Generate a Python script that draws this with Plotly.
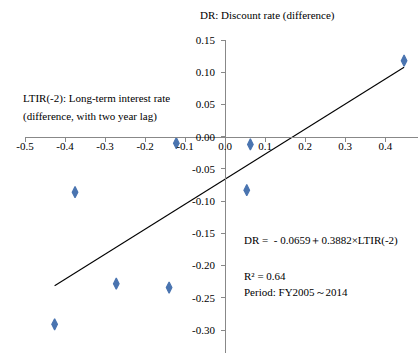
import plotly.graph_objects as go

# LTIR(-2): long-term interest rate change (two-year lag) vs DR: discount rate change
ltir = [0.447, -0.122, 0.063, -0.375, 0.054, -0.272, -0.140, -0.426]
dr = [0.118, -0.010, -0.012, -0.086, -0.083, -0.228, -0.234, -0.291]

intercept = -0.0659
slope = 0.3882

x_ticks = [-0.5, -0.4, -0.3, -0.2, -0.1, 0.0, 0.1, 0.2, 0.3, 0.4, 0.5]
y_ticks = [0.15, 0.10, 0.05, 0.00, -0.05, -0.10, -0.15, -0.20, -0.25, -0.30, -0.35]

W, H = 418, 353
ml, mt, mr, mb = 25.3, 40.3, 0, 0
px_x = 400.0   # pixels per unit on x
px_y = 644.0   # pixels per unit on y
x_rng = [-0.5, -0.5 + (W - ml - mr) / px_x]
y_rng = [0.15 - (H - mt - mb) / px_y, 0.15]

FONT = "Liberation Serif"
axis_col = "#888888"
marker_col = "#4a74b0"

fit_x = [min(ltir), max(ltir)]
fit_y = [intercept + slope * v for v in fit_x]

fig = go.Figure()
fig.add_trace(go.Scatter(x=fit_x, y=fit_y, mode="lines",
                         line=dict(color="black", width=1.1),
                         hoverinfo="skip", showlegend=False))
fig.add_trace(go.Scatter(x=ltir, y=dr, mode="markers",
                         marker=dict(symbol="diamond-tall", size=8,
                                     color=marker_col,
                                     line=dict(width=1.2, color=marker_col)),
                         showlegend=False))

# axes cross at the origin
x0_frac = (0 - x_rng[0]) / (x_rng[1] - x_rng[0])
y0_frac = (0 - y_rng[0]) / (y_rng[1] - y_rng[0])

fig.update_layout(
    width=W, height=H,
    margin=dict(l=ml, r=mr, t=mt, b=mb, pad=0, autoexpand=False),
    paper_bgcolor="white", plot_bgcolor="white",
    font=dict(family=FONT, size=11, color="black"),
    xaxis=dict(range=x_rng, tickvals=x_ticks,
               ticktext=[f"{v:.1f}" for v in x_ticks],
               anchor="free", position=y0_frac,
               showgrid=False, zeroline=False, showline=True,
               linecolor=axis_col, linewidth=1,
               ticks="outside", ticklen=4, tickcolor=axis_col,
               ticklabelstandoff=-5,
               tickfont=dict(family=FONT, size=11)),
    yaxis=dict(range=y_rng, tickvals=y_ticks,
               ticktext=[f"{v:.2f}" for v in y_ticks],
               anchor="free", position=x0_frac,
               showgrid=False, zeroline=False, showline=True,
               linecolor=axis_col, linewidth=1,
               ticks="outside", ticklen=4, tickcolor=axis_col,
               ticklabelstandoff=4,
               tickfont=dict(family=FONT, size=11)),
)

plot_w = W - ml - mr
plot_h = H - mt - mb

# text placed by pixel position, converted to the plot-area (paper) frame
for text, x, y in [
    ("DR: Discount rate (difference)", 198, 16),
    ("LTIR(-2): Long-term interest rate", 21, 99),
    ("(difference, with two year lag)", 21, 117),
    ("DR =  - 0.0659＋0.3882×LTIR(-2)", 242, 241),
    ("R² = 0.64", 242, 276),
    ("Period: FY2005～2014", 242, 292),
]:
    fig.add_annotation(text=text, xref="paper", yref="paper",
                       x=(x - ml) / plot_w, y=1 - (y - mt) / plot_h,
                       xanchor="left", yanchor="middle",
                       showarrow=False,
                       font=dict(family=FONT, size=11, color="black"))

fig.write_html("out.html")
